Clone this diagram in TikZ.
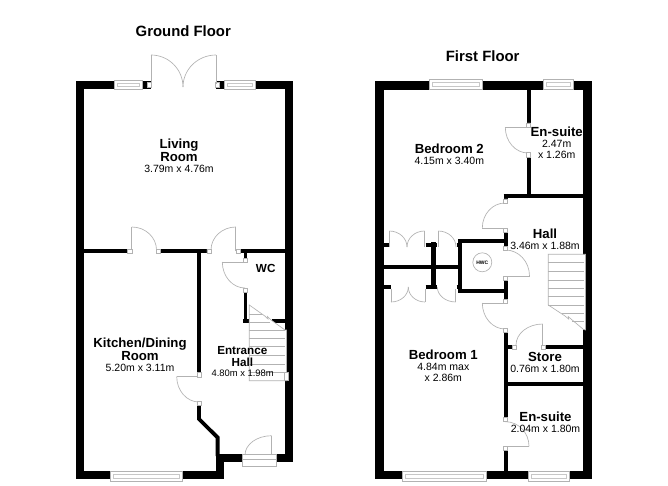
\documentclass[tikz,border=0pt]{standalone}
\usepackage{fontspec}
\setmainfont{Liberation Sans}
\usetikzlibrary{positioning}
\definecolor{linegray}{gray}{0.7}
\definecolor{panegray}{gray}{0.78}
\tikzset{
	outerwall/.style={draw=black,line width=8.4pt,line join=miter},
	partition/.style={draw=black,line width=3.8pt},
	wallblock/.style={fill=black},
	jamb/.style={draw=linegray,fill=white,line width=0.6pt},
	swingline/.style={draw=linegray,line width=0.65pt},
	glazing/.style={draw=linegray,fill=white,line width=0.65pt},
	panes/.style={draw=panegray,line width=0.6pt},
	treads/.style={draw=linegray,line width=0.65pt},
	floortitle/.style={font=\fontsize{14.9}{16}\selectfont\bfseries},
	roomlabel/.style={font=\fontsize{13.2}{13.2}\selectfont\bfseries,align=center,inner sep=0pt},
	smalllabel/.style={font=\fontsize{11.7}{11.7}\selectfont\bfseries,align=center,inner sep=0pt},
	dimlabel/.style={font=\fontsize{10.5}{11.5}\selectfont,align=center,inner sep=0pt},
	smalldim/.style={font=\fontsize{9.4}{11}\selectfont,align=center,inner sep=0pt}
}
% quarter swing of a door: leaves (x1,y1) level, reaches (x2,y2) upright
\newcommand{\swing}[4]{\draw[swingline] (#1,#2) .. controls ({#1+.552*(#3-#1)},#2) and (#3,{#4-.552*(#4-#2)}) .. (#3,#4);}
\newcommand{\windowpane}[4]{\draw[glazing] (#1,#2) rectangle (#3,#4); \draw[panes] ({#1+3},{#2+3}) rectangle ({#3-3},{#4-3});}
\begin{document}
\begin{tikzpicture}[x=1pt,y=-1pt]
	\path[use as bounding box,fill=white] (0,0) rectangle (668,486);

	% ground floor walls
	\draw[outerwall] (80.2,85) -- (288.8,85) -- (288.8,458.2) -- (219.7,458.2) -- (219.7,475.2) -- (80.2,475.2) -- cycle;
	\fill[white] (151,78) rectangle (216,91);
	\draw[partition] (84,250.8) -- (128,250.8) (160,250.8) -- (207,250.8) (241,250.8) -- (285,250.8);
	\draw[partition] (199,250.8) -- (199,372.5) (199,405) -- (199,419) -- (217.6,437.5) -- (217.6,456);
	\draw[partition] (245.4,249) -- (245.4,258) (245.4,292) -- (245.4,322.7);
	\fill[wallblock] (243.4,319) rectangle (249.3,322.7);
	\draw[partition] (271.7,320.9) -- (285,320.9);

	% ground floor stairs
	\draw[treads,fill=white] (249.3,305) -- (264.8,316) -- (268,319) -- (267.5,316.5) -- (271,320) -- (285,330) -- (286.5,330) -- (286.5,380.7) -- (249.3,380.7) -- cycle;
	\draw[treads] (249.3,314) -- (262,314) (249.3,322.7) -- (270,322.7);
	\draw[treads] (249.3,330.7) -- (285,330.7) (249.3,338.7) -- (285,338.7) (249.3,346.7) -- (285,346.7)
		(249.3,355.3) -- (285,355.3) (249.3,364) -- (285,364) (249.3,372.3) -- (285,372.3);
	\draw[jamb] (284.3,372.3) rectangle (288.3,380.7);

	% ground floor windows and front door
	\windowpane{114}{80}{142.6}{89.5}
	\windowpane{224.2}{80}{255.4}{89.5}
	\windowpane{110.7}{471}{182.7}{481}
	\draw[glazing] (242.7,454) rectangle (276.7,466.7);
	\draw[swingline] (242.7,459.3) -- (276.7,459.3);

	% ground floor doors
	\draw[jamb] (147.4,82.3) rectangle (151.4,87.7);
	\draw[jamb] (215.2,82.3) rectangle (219.3,87.7);
	\draw[swingline] (151,84) -- (151,55) (216,84) -- (216,55);
	\swing{151}{55}{183}{87}
	\swing{216}{55}{183}{87}
	\draw[swingline] (131.8,251) -- (131.8,227) (235.8,251) -- (235.8,227);
	\swing{131.8}{227}{156.5}{250}
	\swing{235.8}{227}{211}{250}
	\draw[swingline] (245,262) -- (222.3,262);
	\swing{245}{288}{222.3}{262}
	\draw[swingline] (199,376.5) -- (176.7,376.5);
	\swing{199}{402}{176.7}{376.5}
	\draw[swingline] (271.7,455) -- (271.7,435.7);
	\swing{271.7}{435.7}{245}{455}
	\draw[jamb] (127.7,249) rectangle (131.8,252.8) (156,249) rectangle (160.2,252.8)
		(206.8,249) rectangle (211,252.8) (236,249) rectangle (240.7,252.8)
		(243.4,258) rectangle (247.4,262) (243.4,288) rectangle (247.4,292)
		(197,372.5) rectangle (201,376.8) (197,401) rectangle (201,405);

	% first floor walls
	\draw[outerwall] (379.5,85.4) -- (587.6,85.4) -- (587.6,475.1) -- (379.5,475.1) -- cycle;
	\draw[partition] (528.7,89) -- (528.7,123) (528.7,157) -- (528.7,194);
	\draw[partition] (503.7,195.7) -- (584,195.7);
	\draw[partition] (505.7,194) -- (505.7,199) (505.7,232.7) -- (505.7,246) (505.7,280) -- (505.7,299.3)
		(505.7,332) -- (505.7,417.3) (505.7,450.7) -- (505.7,471);
	\draw[partition] (458.3,241.3) -- (507,241.3) (458.3,290.9) -- (507,290.9) (460.3,239.4) -- (460.3,292.8);
	\draw[partition] (384,267) -- (458.3,267);
	\draw[partition] (384,244.8) -- (389.3,244.8) (425.7,244.8) -- (437.3,244.8) (456.7,244.8) -- (458.3,244.8);
	\draw[partition] (384,287.2) -- (390.7,287.2) (425.7,287.2) -- (437.3,287.2) (456.7,287.2) -- (458.3,287.2);
	\draw[partition,line width=5pt] (433.2,242.4) -- (433.2,289);
	\draw[partition] (507,347.2) -- (512.7,347.2) (545.7,347.2) -- (584,347.2);
	\draw[partition] (507,384) -- (584,384);

	% first floor stairs
	\draw[treads,fill=white] (548.3,254.3) -- (585.6,254.3) -- (585.6,330) -- (583.3,329.3) -- (571,319) -- (568.3,316.7) -- (568.6,319) -- (565,316) -- (548.3,305) -- cycle;
	\draw[treads] (548.3,262.7) -- (584,262.7) (548.3,271.7) -- (584,271.7) (548.3,280) -- (584,280)
		(548.3,288.3) -- (584,288.3) (548.3,296.7) -- (584,296.7) (548.3,305) -- (584,305)
		(562,313.3) -- (584,313.3) (572,321.7) -- (584,321.7);

	% first floor windows
	\windowpane{429}{79.5}{482.7}{89.5}
	\windowpane{543}{79.5}{573.3}{89.5}
	\windowpane{402.7}{471}{486.7}{481}
	\windowpane{528.3}{471}{569.3}{481}

	% first floor doors
	\draw[swingline] (505.3,127.3) -- (528,127.3);
	\swing{528}{153}{505.3}{127.3}
	\draw[swingline] (482.3,228) -- (505,228);
	\swing{505}{203}{482.3}{228}
	\draw[swingline] (505.5,276) -- (529.5,276);
	\swing{505.5}{250}{529.5}{276}
	\draw[swingline] (482.3,303) -- (505,303);
	\swing{505}{329}{482.3}{303}
	\draw[swingline] (505.5,446.3) -- (529,446.3);
	\swing{505.5}{421.7}{529}{446.3}
	\draw[swingline] (542.7,346) -- (542.7,324);
	\swing{542.7}{324}{516}{345}
	\draw[jamb] (526.7,123) rectangle (530.7,127.3) (526.7,152.5) rectangle (530.7,157)
		(503.7,199) rectangle (507.7,203) (503.7,228.3) rectangle (507.7,232.7)
		(503.7,246) rectangle (507.7,250) (503.7,276) rectangle (507.7,280)
		(503.7,299.3) rectangle (507.7,303.3) (503.7,328.3) rectangle (507.7,332.3)
		(503.7,417.3) rectangle (507.7,421.7) (503.7,446.7) rectangle (507.7,450.7)
		(512.7,345.2) rectangle (516.7,349.2) (541.7,345.2) rectangle (545.7,349.2);

	% cupboards
	\draw[swingline] (389.3,247) -- (389.3,231) (424.5,247) -- (424.5,231) (438.3,247) -- (438.3,231);
	\swing{389.3}{231}{407}{247}
	\swing{424.5}{231}{407}{247}
	\swing{438.3}{231}{456}{247}
	\draw[swingline] (391,289) -- (391,302) (425,289) -- (425,302) (455.7,289) -- (455.7,302);
	\swing{391}{302}{408.3}{287}
	\swing{425}{302}{408.3}{287}
	\swing{455.7}{302}{437.3}{287}
	\node (hwc) [draw=linegray,circle,minimum size=19pt,inner sep=0pt,line width=0.65pt,font=\fontsize{5}{5}\selectfont\bfseries] at (482.3,262.3) {HWC};

	% titles
	\node (groundtitle) [floortitle] at (183.3,31) {Ground Floor};
	\node (firsttitle) [floortitle] at (482.7,55.7) {First Floor};

	% ground floor labels
	\node (living) [roomlabel] at (179,150.5) {Living\\Room};
	\node (livingdim) [dimlabel] at (179,169.3) {3.79m x 4.76m};
	\node (kitchen) [roomlabel] at (140,349.3) {Kitchen/Dining\\Room};
	\node (kitchendim) [dimlabel] at (140,368.3) {5.20m x 3.11m};
	\node (entrance) [smalllabel] at (242.3,356.5) {Entrance\\Hall};
	\node (entrancedim) [smalldim] at (242.7,373.3) {4.80m x 1.98m};
	\node (wc) [smalllabel] at (265.7,268.3) {WC};

	% first floor labels
	\node (bedtwo) [roomlabel] at (449.3,149) {Bedroom 2};
	\node (bedtwodim) [dimlabel] at (449.3,160.7) {4.15m x 3.40m};
	\node (ensuitetop) [roomlabel] at (556.7,132) {En-suite};
	\node (ensuitetopdim) [dimlabel] at (556.7,149.5) {2.47m\\x 1.26m};
	\node (hall) [roomlabel] at (545,234) {Hall};
	\node (halldim) [dimlabel] at (545,246) {3.46m x 1.88m};
	\node (bedone) [roomlabel] at (443.3,355) {Bedroom 1};
	\node (bedonedim) [dimlabel] at (443.3,372.5) {4.84m max\\x 2.86m};
	\node (store) [roomlabel] at (545,356.7) {Store};
	\node (storedim) [dimlabel] at (545,368.7) {0.76m x 1.80m};
	\node (ensuite) [roomlabel] at (545.5,416.7) {En-suite};
	\node (ensuitedim) [dimlabel] at (545.5,429) {2.04m x 1.80m};
\end{tikzpicture}
\end{document}
